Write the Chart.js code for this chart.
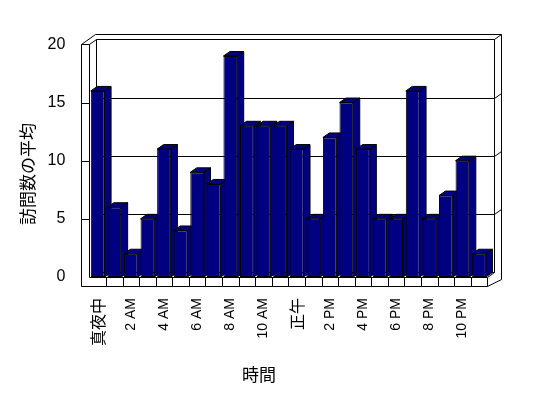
<!DOCTYPE html>
<html>
<head>
<meta charset="utf-8">
<script src="https://cdn.jsdelivr.net/npm/chart.js@4"></script>
<style>body{margin:0;background:#fff}</style>
</head>
<body>
<canvas id="chartVisitas" width="548" height="398"></canvas>
<script>
const hours = ['真夜中', '1 AM', '2 AM', '3 AM', '4 AM', '5 AM', '6 AM', '7 AM', '8 AM', '9 AM', '10 AM', '11 AM',
  '正午', '1 PM', '2 PM', '3 PM', '4 PM', '5 PM', '6 PM', '7 PM', '8 PM', '9 PM', '10 PM', '11 PM'];
const visits = [16, 6, 2, 5, 11, 4, 9, 8, 19, 13, 13, 13, 11, 5, 12, 15, 11, 5, 5, 16, 5, 7, 10, 2];
const yTicks = [0, 5, 10, 15, 20];
const xTitle = '時間';
const yTitle = '訪問数の平均';

// fake 3D: walls, floor, back grid and bar tops/sides
const box3d = {
  id: 'box3d',
  beforeDatasetsDraw(chart) {
    const {ctx, chartArea: a, scales: {x, y}} = chart;
    const L = a.left, R = a.right, T = a.top, B = a.bottom;
    const dx = 7, dy = -5, Lo = L - 8, Fb = B + 9;
    const p = v => Math.round(v) + 0.5;
    const line = pts => {
      ctx.beginPath();
      pts.forEach(([px, py], i) => i ? ctx.lineTo(p(px), p(py)) : ctx.moveTo(p(px), p(py)));
      ctx.stroke();
    };
    ctx.save();
    ctx.strokeStyle = '#000';
    ctx.lineWidth = 1;
    line([[Lo, Fb], [Lo, T], [Lo + 2 * dx, T + 2 * dy], [R + 2 * dx, T + 2 * dy], [R + 2 * dx, B + 2], [R, Fb], [Lo, Fb]]);
    line([[L, B], [L, T], [L + dx, T + dy], [R + dx, T + dy], [R + dx, B + dy]]);
    line([[Lo, T], [L, T]]);
    line([[L + dx, T + dy], [L + dx, B + dy], [R + dx, B + dy]]);
    line([[R + dx, T + dy], [R + 2 * dx, T + 2 * dy]]);
    line([[L, B], [R, B], [R + dx, B + dy]]);
    line([[R, B], [R, Fb]]);
    yTicks.slice(1, -1).forEach(v => {
      const gy = y.getPixelForValue(v);
      line([[L + dx, gy + dy], [R + dx, gy + dy], [R + 2 * dx, gy + 2 * dy]]);
      line([[Lo, gy], [L, gy]]);
    });
    for (let i = 1; i < hours.length; i++) {
      const gx = (x.getPixelForTick(i - 1) + x.getPixelForTick(i)) / 2;
      line([[gx, B], [gx, Fb]]);
    }
    const bd = 6.5, br = 4.5;
    ctx.fillStyle = '#000080';
    chart.getDatasetMeta(0).data.forEach(bar => {
      const {x: bx, y: by, base, width} = bar.getProps(['x', 'y', 'base', 'width'], true);
      const l = bx - width / 2, r = bx + width / 2;
      const faces = [
        [[r, by], [r + bd, by - br], [r + bd, base - br], [r, base]],
        [[l, by], [l + bd, by - br], [r + bd, by - br], [r, by]]
      ];
      faces.forEach(f => {
        ctx.beginPath();
        f.forEach(([px, py], i) => i ? ctx.lineTo(px, py) : ctx.moveTo(px, py));
        ctx.closePath();
        ctx.fill();
        ctx.stroke();
      });
    });
    ctx.restore();
  },
  afterDraw(chart) {
    const ctx = chart.ctx;
    ctx.save();
    ctx.fillStyle = '#000';
    ctx.font = '17px "Noto Sans CJK JP"';
    ctx.textAlign = 'center';
    ctx.textBaseline = 'middle';
    ctx.fillText(xTitle, 259, 375);
    ctx.translate(28, 174);
    ctx.rotate(-Math.PI / 2);
    ctx.fillText(yTitle, 0, 0);
    ctx.restore();
  }
};

const ctx = document.getElementById('chartVisitas');

new Chart(ctx, {
  type: 'bar',
  data: {
    labels: hours,
    datasets: [{
      data: visits,
      backgroundColor: '#000080',
      borderColor: '#000',
      borderWidth: 1,
      borderSkipped: false,
      barPercentage: 0.83,
      categoryPercentage: 1
    }]
  },
  options: {
    responsive: false,
    animation: false,
    layout: { padding: { left: 0, top: 44.4, right: 60.7, bottom: 0 } },
    plugins: { legend: { display: false }, tooltip: { enabled: false } },
    scales: {
      x: {
        grid: { display: false },
        border: { display: false },
        ticks: {
          autoSkip: false,
          minRotation: 90,
          maxRotation: 90,
          padding: 13,
          color: '#000',
          font: c => /[^ -~]/.test(hours[c.index])
            ? { family: 'Noto Sans CJK JP', size: 16 }
            : { family: 'Liberation Sans', size: 14 },
          callback: (v, i) => i % 2 ? '' : hours[i]
        },
        afterFit: s => { s.height = 121; }
      },
      y: {
        min: 0,
        max: 20,
        grid: { display: false },
        border: { display: false },
        afterBuildTicks: s => { s.ticks = yTicks.map(v => ({ value: v })); },
        ticks: { padding: 16, color: '#000', font: { family: 'Liberation Sans', size: 16 } },
        afterFit: s => { s.width = 89.4; }
      }
    }
  },
  plugins: [box3d]
});
</script>
</body>
</html>
